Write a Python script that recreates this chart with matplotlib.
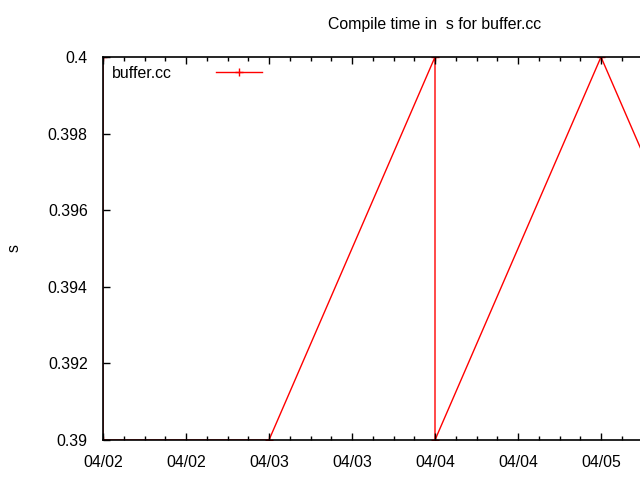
import matplotlib
matplotlib.use("Agg")
import matplotlib.pyplot as plt
import matplotlib.dates as mdates
import pandas as pd

plt.rcParams['font.family'] = ['Liberation Sans', 'DejaVu Sans']

times = pd.to_datetime([
    "2015-04-02 00:00", "2015-04-02 00:00", "2015-04-03 00:00",
    "2015-04-04 00:00", "2015-04-04 00:00", "2015-04-05 00:00",
    "2015-04-06 00:00",
])
values = [0.4, 0.39, 0.39, 0.4, 0.39, 0.4, 0.39]
series_label = "buffer.cc"
title = "Compile time in  s for buffer.cc"
ylabel = "s"
yticks = [0.39, 0.392, 0.394, 0.396, 0.398, 0.4]
ytick_labels = ["0.39", "0.392", "0.394", "0.396", "0.398", "0.4"]
xticks = pd.to_datetime([
    "2015-04-02 00:00", "2015-04-02 12:00", "2015-04-03 00:00",
    "2015-04-03 12:00", "2015-04-04 00:00", "2015-04-04 12:00",
    "2015-04-05 00:00",
])
xtick_labels = ["04/02", "04/02", "04/03", "04/03", "04/04", "04/04", "04/05"]

FS = 11.4

fig = plt.figure(figsize=(6.4, 4.8), dpi=100)
left = 103 / 640
right = 767 / 640
bottom = 1 - 440 / 480
top = 1 - 57 / 480
ax = fig.add_axes([left, bottom, right - left, top - bottom])

ax.plot(times, values, color="red", lw=1, marker="+", ms=6, mew=1,
        label=series_label, zorder=1)

ax.set_xlim(pd.Timestamp("2015-04-02 00:00"), pd.Timestamp("2015-04-06 00:00"))
ax.set_ylim(0.39, 0.4)
ax.set_yticks(yticks)
ax.set_yticklabels(ytick_labels)

ax.set_xticks(mdates.date2num(xticks))
ax.set_xticklabels(xtick_labels)
ax.xaxis.set_minor_locator(mdates.HourLocator(byhour=range(0, 24, 3)))

ax.tick_params(which="both", direction="in", top=True, right=True,
               labelsize=FS, colors="black", pad=11)
ax.tick_params(which="major", length=5, width=1)
ax.tick_params(which="minor", length=3, width=1)
for sp in ax.spines.values():
    sp.set_linewidth(1.2)
    sp.set_zorder(5)

ax.set_title(title, fontsize=FS, pad=20)
fig.text(14 / 640, 1 - 248 / 480, ylabel, rotation=90, fontsize=FS,
         ha="center", va="center")

leg = ax.legend(loc="upper left", markerfirst=False, frameon=False,
                fontsize=FS, handlelength=2.9, handletextpad=2.8,
                borderaxespad=0.15, bbox_to_anchor=(0.0, 1.0))

fig.savefig("out.png", dpi=100)
